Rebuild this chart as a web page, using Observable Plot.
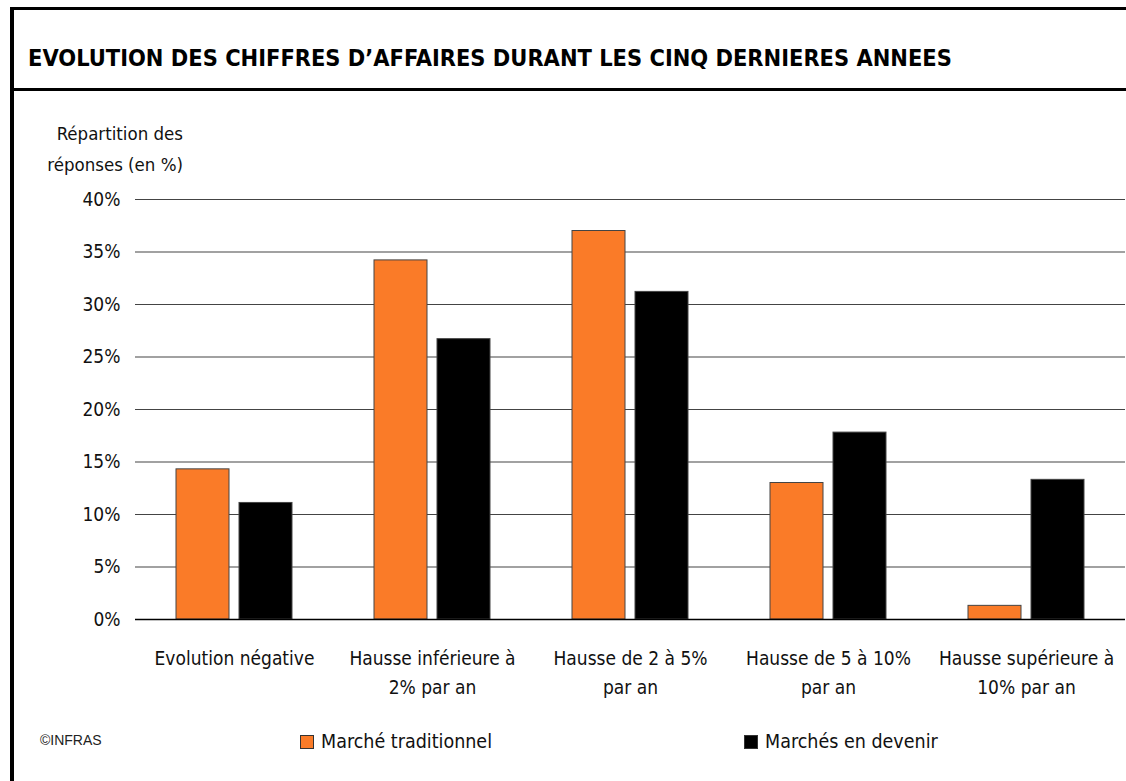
<!DOCTYPE html>
<html>
<head>
<meta charset="utf-8">
<script src="https://cdn.jsdelivr.net/npm/d3@7"></script>
<script src="https://cdn.jsdelivr.net/npm/@observablehq/plot@0.6"></script>
<style>
  html, body { margin: 0; padding: 0; background: #fff; width: 1126px; height: 781px; overflow: hidden; }
  body { position: relative; font-family: "DejaVu Sans Condensed", "DejaVu Sans", sans-serif; font-stretch: condensed; color: #111; }
  #frame { position: absolute; left: 10px; top: 7px; width: 1200px; height: 800px; border-left: 4px solid #000; border-top: 3px solid #000; }
  #sep { position: absolute; left: 10px; top: 88px; width: 1200px; height: 3px; background: #000; }
  #title { position: absolute; left: 28px; top: 47px; font-weight: bold; font-size: 23.4px; line-height: 23.4px; white-space: nowrap; color: #000; }
  .ylab { position: absolute; right: calc(1126px - 183px); font-size: 18.5px; line-height: 18.5px; white-space: nowrap; }
  #chart { position: absolute; left: 0; top: 180px; }
  .leg { position: absolute; top: 732px; display: flex; align-items: center; font-size: 19.5px; line-height: 19.5px; white-space: nowrap; }
  .sw { width: 12px; height: 12px; border: 1px solid #333; margin-right: 7px; }
  #credit { position: absolute; left: 40px; top: 733px; font-family: "Liberation Sans", Arial, sans-serif; font-stretch: normal; font-size: 14px; line-height: 14px; color: #222; }
</style>
</head>
<body>
<div id="frame"></div>
<div id="sep"></div>
<div id="title">EVOLUTION DES CHIFFRES D’AFFAIRES DURANT LES CINQ DERNIERES ANNEES</div>
<div class="ylab" style="top:125px">Répartition des</div>
<div class="ylab" style="top:156px">réponses (en %)</div>
<div id="chart"></div>
<div id="legend"></div>
<div id="credit">©INFRAS</div>
<script>
const categories = [
  "Evolution négative",
  "Hausse inférieure à\n2% par an",
  "Hausse de 2 à 5%\npar an",
  "Hausse de 5 à 10%\npar an",
  "Hausse supérieure à\n10% par an"
];
const series = ["Marché traditionnel", "Marchés en devenir"];
const traditionnel = [14.3, 34.2, 37.0, 13.0, 1.3];
const devenir = [11.1, 26.7, 31.2, 17.8, 13.3];
const yTicks = [0, 5, 10, 15, 20, 25, 30, 35, 40];
const colors = ["#fa7b28", "#000000"];

const data = categories.flatMap((c, i) => [
  {category: c, series: series[0], value: traditionnel[i]},
  {category: c, series: series[1], value: devenir[i]}
]);

const chart = Plot.plot({
  width: 1126,
  height: 530,
  marginTop: 19,
  marginBottom: 91,
  marginLeft: 133,
  marginRight: 0,
  style: {
    fontFamily: "'DejaVu Sans Condensed', 'DejaVu Sans', sans-serif",
    fontStretch: "condensed",
    fontSize: "19px",
    color: "#111",
    background: "transparent",
    overflow: "visible"
  },
  fx: {domain: categories, padding: 0, label: null},
  x: {domain: series, paddingInner: 0.156, paddingOuter: 0.633, axis: null},
  y: {domain: [0, 40], label: null},
  color: {domain: series, range: colors},
  marks: [
    Plot.gridY(yTicks, {stroke: "#444", strokeOpacity: 1, strokeWidth: 1.2}),
    Plot.barY(data, {fx: "category", x: "series", y: "value", fill: "series", stroke: "#444", strokeWidth: 1}),
    Plot.ruleY([0], {stroke: "#000", strokeWidth: 1.5}),
    Plot.axisY(yTicks, {tickSize: 0, tickPadding: 15, tickFormat: d => d + "%", label: null}),
    Plot.axisFx({anchor: "bottom", tickSize: 0, tickPadding: 25, lineHeight: 1.52, label: null})
  ]
});
document.getElementById("chart").appendChild(chart);

const legendLeft = [300, 744];
const legend = document.getElementById("legend");
series.forEach((s, i) => {
  const item = document.createElement("div");
  item.className = "leg";
  item.style.left = legendLeft[i] + "px";
  const sw = document.createElement("div");
  sw.className = "sw";
  sw.style.background = colors[i];
  const t = document.createElement("span");
  t.textContent = s;
  item.appendChild(sw);
  item.appendChild(t);
  legend.appendChild(item);
});
</script>
</body>
</html>
